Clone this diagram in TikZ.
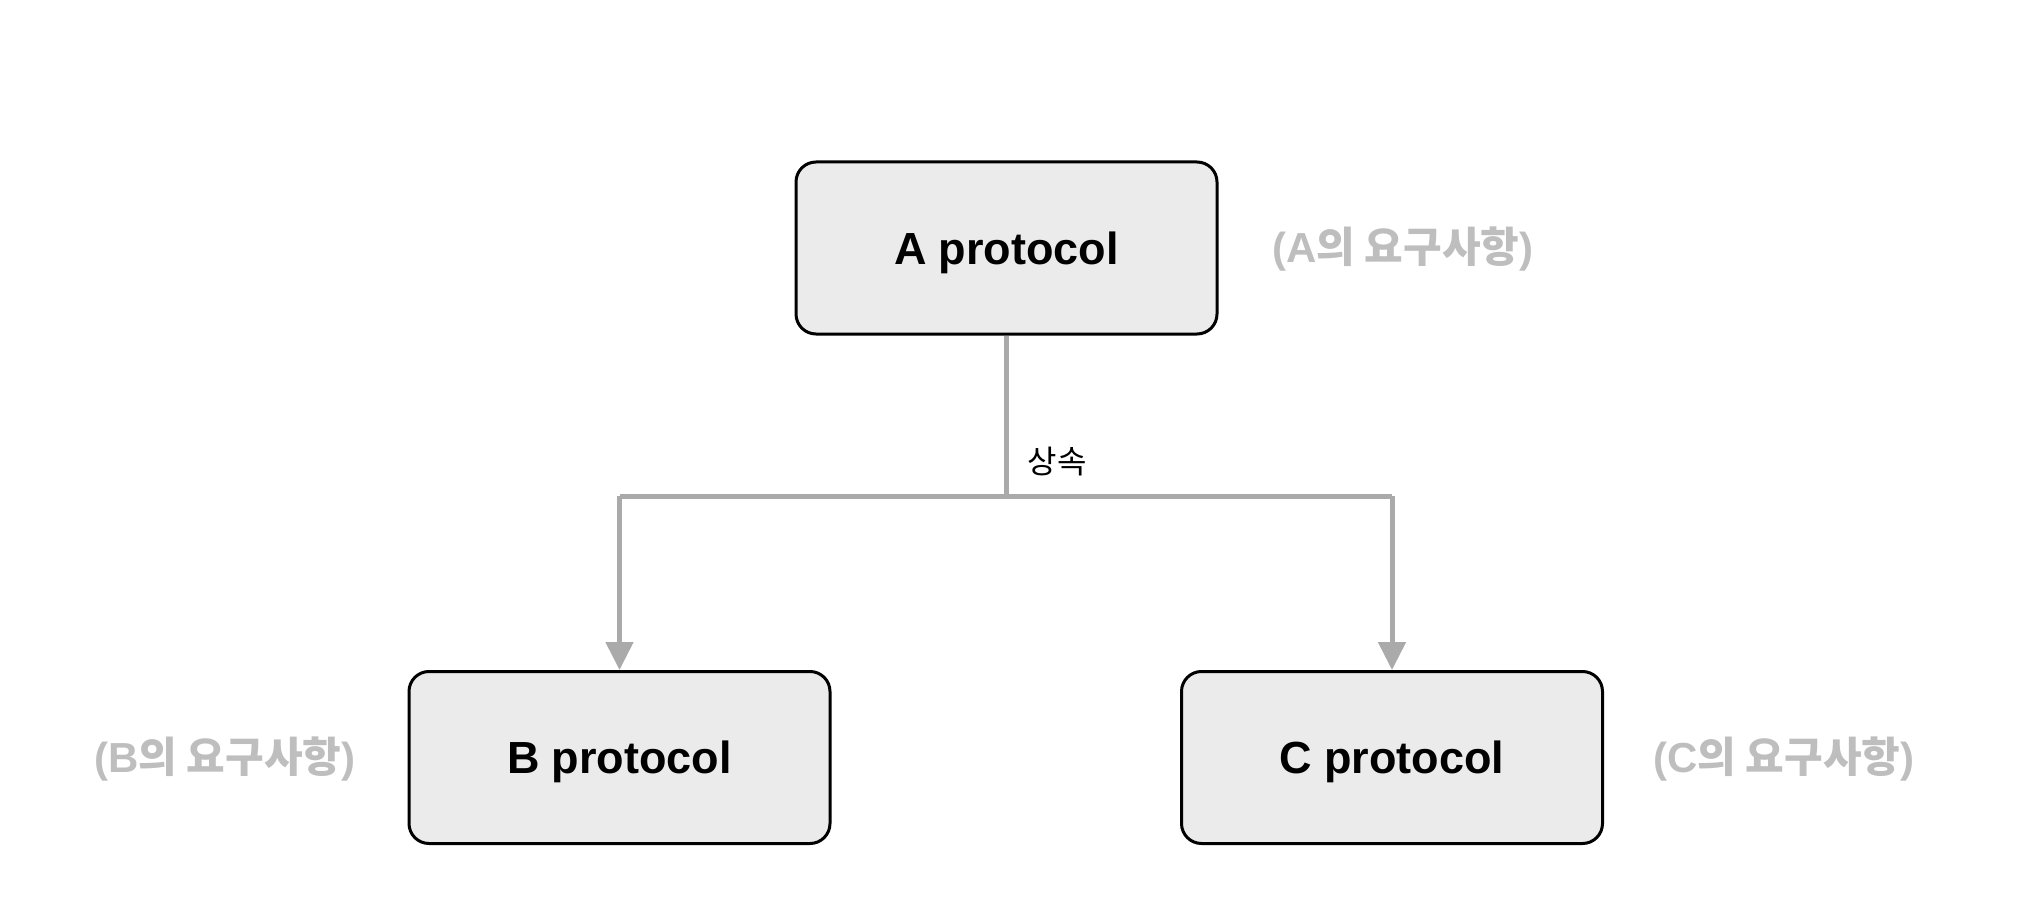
\documentclass[tikz,border=0pt]{standalone}
\usepackage{fontspec}
\setmainfont{Liberation Sans}
\newfontfamily\krfont{Noto Sans CJK KR}
\usetikzlibrary{arrows.meta}
\definecolor{boxfill}{HTML}{EBEBEB}
\definecolor{connc}{HTML}{AAAAAA}
\definecolor{reqc}{HTML}{BEBEBE}
\begin{document}
\begin{tikzpicture}[x=1pt,y=-1pt,
  proto/.style={draw=black,line width=3pt,fill=boxfill,rounded corners=20pt,
    minimum width=421pt,minimum height=172pt,inner sep=0pt,text depth=0pt,
    font=\fontsize{45}{50}\selectfont\bfseries},
  req/.style={text=reqc,inner sep=0pt,text depth=0pt,font=\fontsize{42}{48}\selectfont\bfseries},
  conn/.style={draw=connc,line width=5pt},
  tip/.style={-{Triangle[length=28pt,width=27pt]}}]
\useasboundingbox (0,0) rectangle (2022,912);
\node[proto] (A) at (1006.5,248) {A protocol};
\node[proto] (B) at (619.5,757.5) {B protocol};
\node[proto] (C) at (1392,757.5) {C protocol};
\node[req] (ra) at (1403,245) {(A{\krfont\bfseries 의 요구사항})};
\node[req] (rb) at (225,755) {(B{\krfont\bfseries 의 요구사항})};
\node[req] (rc) at (1784,755) {(C{\krfont\bfseries 의 요구사항})};
\coordinate (j) at (1006.5,496);
\node[font=\krfont\fontsize{32}{36}\selectfont] (lbl) at (1057,462) {상속};
\draw[conn] (A.south) -- (j);
\draw[conn] (j -| B) -- (j -| C);
\draw[conn,tip] (j -| B) -- (B.north);
\draw[conn,tip] (j -| C) -- (C.north);
\end{tikzpicture}
\end{document}
